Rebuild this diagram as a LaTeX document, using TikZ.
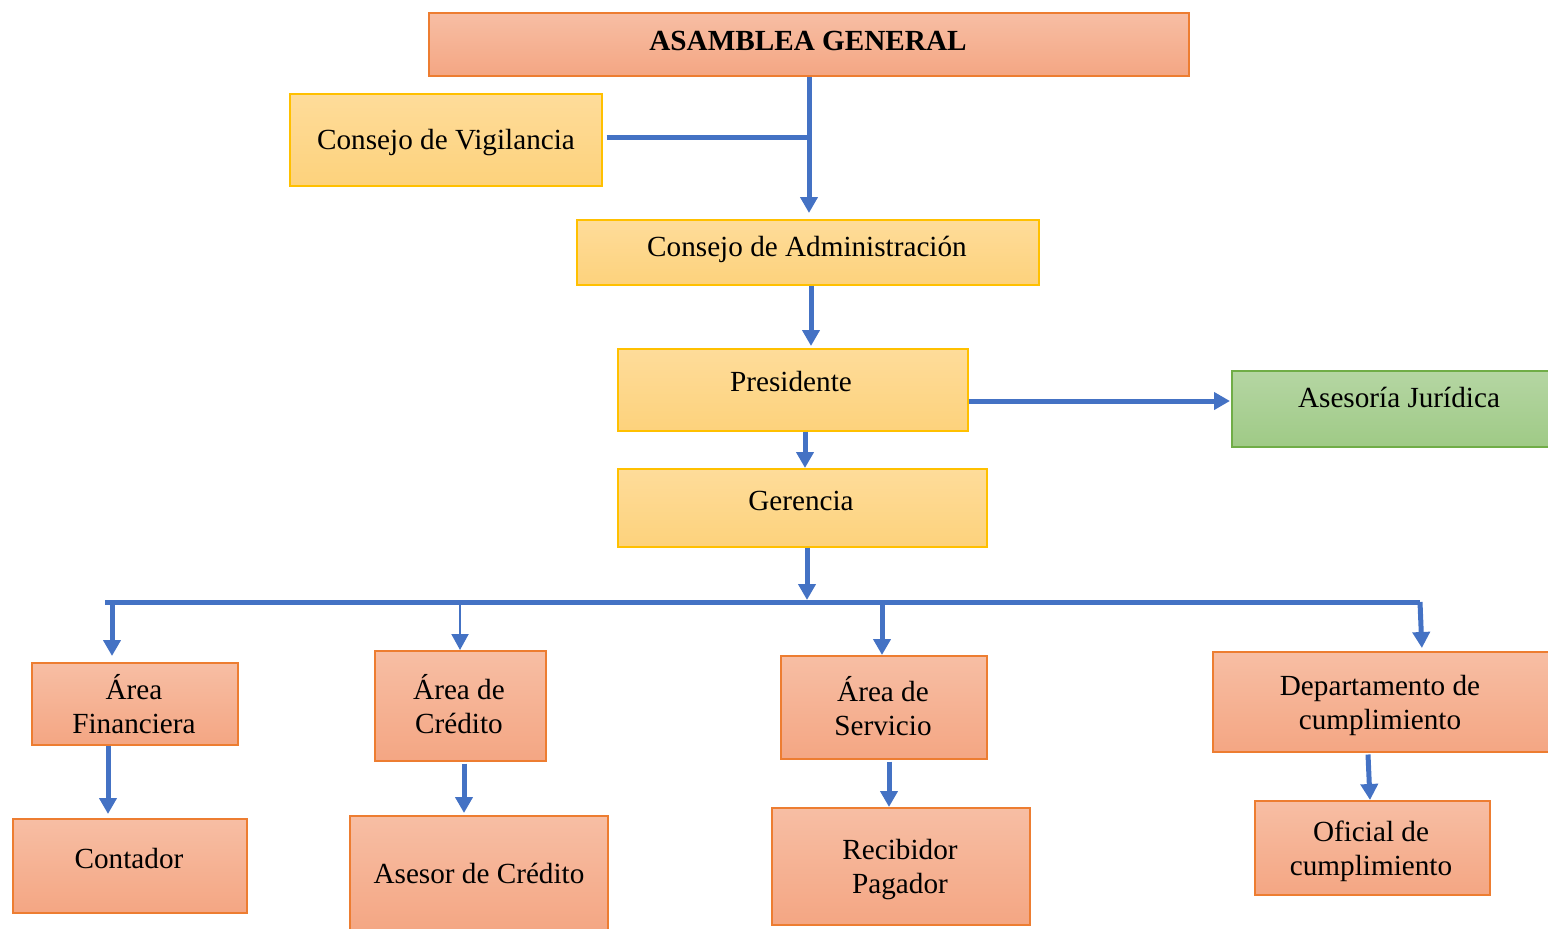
\documentclass[tikz,border=0pt]{standalone}
\usepackage{fontspec}
\setmainfont{Liberation Serif}
\usetikzlibrary{arrows.meta}

\definecolor{salTop}{HTML}{F7BEA4}
\definecolor{salBot}{HTML}{F4A683}
\definecolor{salLine}{HTML}{ED7D31}
\definecolor{yelTop}{HTML}{FEDC9A}
\definecolor{yelBot}{HTML}{FDD27C}
\definecolor{yelLine}{HTML}{FFC000}
\definecolor{grnTop}{HTML}{B5D6A3}
\definecolor{grnBot}{HTML}{9FCA86}
\definecolor{grnLine}{HTML}{70AD47}
\definecolor{linkBlue}{HTML}{4472C4}

% two-line label whose base is the first baseline
\newcommand\twolines[2]{\begin{tabular}[t]{@{}c@{}}#1\\#2\end{tabular}}

\begin{document}
\begin{tikzpicture}[x=0.5pt,y=-0.5pt,
  font=\fontsize{14.6}{17}\selectfont,
  orgbox/.style={line width=0.75pt, inner sep=0pt, anchor=north west},
  salbox/.style={orgbox, draw=salLine, top color=salTop, bottom color=salBot},
  yelbox/.style={orgbox, draw=yelLine, top color=yelTop, bottom color=yelBot},
  grnbox/.style={orgbox, draw=grnLine, top color=grnTop, bottom color=grnBot},
  label/.style={anchor=base, inner sep=0pt},
  link/.style={draw=linkBlue, line width=2.5pt},
  thinlink/.style={draw=linkBlue, line width=1pt},
  arrow/.style={-{Triangle[width=8.5pt,length=8pt]}},
]
\useasboundingbox (0,0) rectangle (1548,928);

% ---- boxes ----
\node[salbox, minimum width=380pt, minimum height=31.5pt] (ag)   at (428,12)  {};
\node[yelbox, minimum width=156pt, minimum height=46pt]   (vig)  at (289,93)  {};
\node[yelbox, minimum width=231pt, minimum height=32.5pt] (adm)  at (576,219) {};
\node[yelbox, minimum width=175pt, minimum height=41pt]   (pres) at (617,348) {};
\node[grnbox, minimum width=159.5pt, minimum height=38pt] (jur)  at (1231,370) {};
\node[yelbox, minimum width=184.5pt, minimum height=39pt] (ger)  at (617,468) {};
\node[salbox, minimum width=103pt, minimum height=41pt]   (fin)  at (31,662)  {};
\node[salbox, minimum width=85.5pt, minimum height=55pt]  (cred) at (374,650) {};
\node[salbox, minimum width=103pt, minimum height=51.5pt] (serv) at (780,655) {};
\node[salbox, minimum width=169pt, minimum height=50pt]   (dept) at (1212,651) {};
\node[salbox, minimum width=117pt, minimum height=47pt]   (cont) at (12,818)  {};
\node[salbox, minimum width=129pt, minimum height=58.5pt] (ase)  at (349,815) {};
\node[salbox, minimum width=129pt, minimum height=58.5pt] (rec)  at (771,807) {};
\node[salbox, minimum width=117.5pt, minimum height=47pt] (ofi)  at (1254,800) {};

% ---- labels ----
\node[label, font=\fontsize{14.6}{17}\selectfont\bfseries] (agT) at (808,50) {ASAMBLEA GENERAL};
\node[label] (vigT)  at (446,149)  {Consejo de Vigilancia};
\node[label] (admT)  at (807,256)  {Consejo de Administración};
\node[label] (presT) at (791,391)  {Presidente};
\node[label] (jurT)  at (1399,407) {Asesoría Jurídica};
\node[label] (gerT)  at (801,510)  {Gerencia};
\node[label] (finT)  at (134,699)  {\twolines{Área}{Financiera}};
\node[label] (credT) at (459,699)  {\twolines{Área de}{Crédito}};
\node[label] (servT) at (883,701)  {\twolines{Área de}{Servicio}};
\node[label] (deptT) at (1380,695) {\twolines{Departamento de}{cumplimiento}};
\node[label] (contT) at (129,868)  {Contador};
\node[label] (aseT)  at (479,883)  {Asesor de Crédito};
\node[label] (recT)  at (900,859)  {\twolines{Recibidor}{Pagador}};
\node[label] (ofiT)  at (1371,841) {\twolines{Oficial de}{cumplimiento}};

% ---- junction points ----
\coordinate (j1) at (809,137);
\coordinate (busL) at (105,602);
\coordinate (busG) at (807,602);
\coordinate (busR) at (1420,602);

% ---- connectors ----
\draw[link, arrow, shorten >=3pt] (ag.south -| j1) -- (adm.north -| j1);
\draw[link] ([xshift=2pt]vig.east |- j1) -- (j1);
\draw[link, arrow, shorten >=1pt] (adm.south -| 811,0) -- (pres.north -| 811,0);
\draw[link, arrow, shorten >=0.5pt] (pres.east |- 0,401) -- (jur.west |- 0,401);
\draw[link, arrow] (pres.south -| 805,0) -- (ger.north -| 805,0);
\draw[link, arrow, shorten >=1pt] (ger.south -| busG) -- (busG);

% bus and drops
\draw[link] (busL) -- (busR);
\draw[link, arrow, shorten >=3pt] (busL -| 112,0) -- (fin.north -| 112,0);
\draw[thinlink, arrow] (busL -| 460,0) -- (cred.north -| 460,0);
\draw[link, arrow] (busL -| 882,0) -- (serv.north -| 882,0);
\draw[link, arrow, shorten >=1.5pt] (busR) -- (dept.north -| 1422,0);

% second level
\draw[link, arrow, shorten >=2pt] (fin.south -| 108,0) -- (cont.north -| 108,0);
\draw[link, arrow, shorten >=1pt] ([yshift=-1pt]cred.south -| 464,0) -- (ase.north -| 464,0);
\draw[link, arrow] ([yshift=-1pt]serv.south -| 889,0) -- (rec.north -| 889,0);
\draw[link, arrow] ([yshift=-1pt]dept.south -| 1368,0) -- (ofi.north -| 1370,0);
\end{tikzpicture}
\end{document}
